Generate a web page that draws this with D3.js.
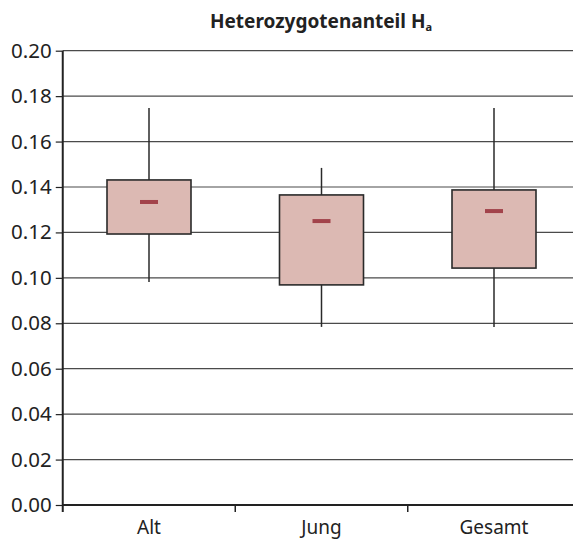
<!DOCTYPE html>
<html><head><meta charset="utf-8">
<script src="https://cdn.jsdelivr.net/npm/d3@7"></script>
<style>body{margin:0;background:#fff}svg{display:block}</style>
</head><body>
<script>
const categories = ["Alt", "Jung", "Gesamt"];
const whiskerLow  = [0.0982, 0.0784, 0.0784];
const boxLow      = [0.1193, 0.0969, 0.1043];
const medians     = [0.1334, 0.1250, 0.1294];
const boxHigh     = [0.1431, 0.1365, 0.1387];
const whiskerHigh = [0.1748, 0.1484, 0.1748];
const yTicks = [0, 0.02, 0.04, 0.06, 0.08, 0.10, 0.12, 0.14, 0.16, 0.18, 0.20];

const W = 573, H = 540;
const mLeft = 62.75, mTop = 50.7, mBottom = 505;
const svg = d3.select("body").append("svg").attr("width", W).attr("height", H);
const font = "'Noto Sans', 'Open Sans', sans-serif";

const y = d3.scaleLinear().domain([0, 0.2]).range([mBottom, mTop]);
const x = d3.scaleBand().domain(categories).range([mLeft, mLeft + 3 * 172.5]);

// gridlines
svg.append("g").selectAll("line").data(yTicks.slice(1)).join("line")
  .attr("x1", mLeft).attr("x2", W).attr("y1", d => y(d)).attr("y2", d => y(d))
  .attr("stroke", "#4a4a4a").attr("stroke-width", 1.2);

// y axis
const ya = svg.append("g").attr("transform", `translate(${mLeft},0)`)
  .call(d3.axisLeft(y).tickValues(yTicks).tickFormat(d3.format(".2f")).tickSize(7).tickPadding(4));
ya.select(".domain").remove();
ya.selectAll(".tick line").attr("stroke", "#222").attr("stroke-width", 1.2);
ya.selectAll("text").attr("font-family", font).attr("font-size", 20.5).attr("fill", "#222");
svg.append("line").attr("x1", mLeft).attr("x2", mLeft).attr("y1", mTop).attr("y2", mBottom + 7)
  .attr("stroke", "#222").attr("stroke-width", 2);

// x axis
svg.append("line").attr("x1", mLeft).attr("x2", W).attr("y1", mBottom).attr("y2", mBottom)
  .attr("stroke", "#222").attr("stroke-width", 2);
const bounds = categories.slice(1).map(c => x(c));
svg.append("g").selectAll("line").data(bounds).join("line")
  .attr("x1", d => d).attr("x2", d => d).attr("y1", mBottom).attr("y2", mBottom + 7)
  .attr("stroke", "#222").attr("stroke-width", 1.5);
svg.append("g").selectAll("text").data(categories).join("text")
  .attr("x", d => x(d) + x.bandwidth() / 2).attr("y", 534)
  .attr("text-anchor", "middle").attr("font-family", font).attr("font-size", 19).attr("fill", "#222")
  .text(d => d);

// boxes
const bw = 84;
categories.forEach((c, i) => {
  const cx = x(c) + x.bandwidth() / 2;
  const g = svg.append("g");
  g.append("line").attr("x1", cx).attr("x2", cx).attr("y1", y(whiskerHigh[i])).attr("y2", y(whiskerLow[i]))
    .attr("stroke", "#2a2a2a").attr("stroke-width", 1.5);
  g.append("rect").attr("x", cx - bw / 2).attr("y", y(boxHigh[i]))
    .attr("width", bw).attr("height", y(boxLow[i]) - y(boxHigh[i]))
    .attr("fill", "#dcb9b3").attr("stroke", "#2a2a2a").attr("stroke-width", 1.6);
  g.append("rect").attr("x", cx - 9).attr("y", y(medians[i]) - 2)
    .attr("width", 18).attr("height", 4).attr("fill", "#a2434b");
});

// title
const t = svg.append("text").attr("x", 321).attr("y", 28).attr("text-anchor", "middle")
  .attr("font-family", font).attr("font-size", 19).attr("font-weight", "bold").attr("fill", "#222");
t.append("tspan").text("Heterozygotenanteil H");
t.append("tspan").attr("font-size", 11).attr("dy", 3).text("a");
</script>
</body></html>
